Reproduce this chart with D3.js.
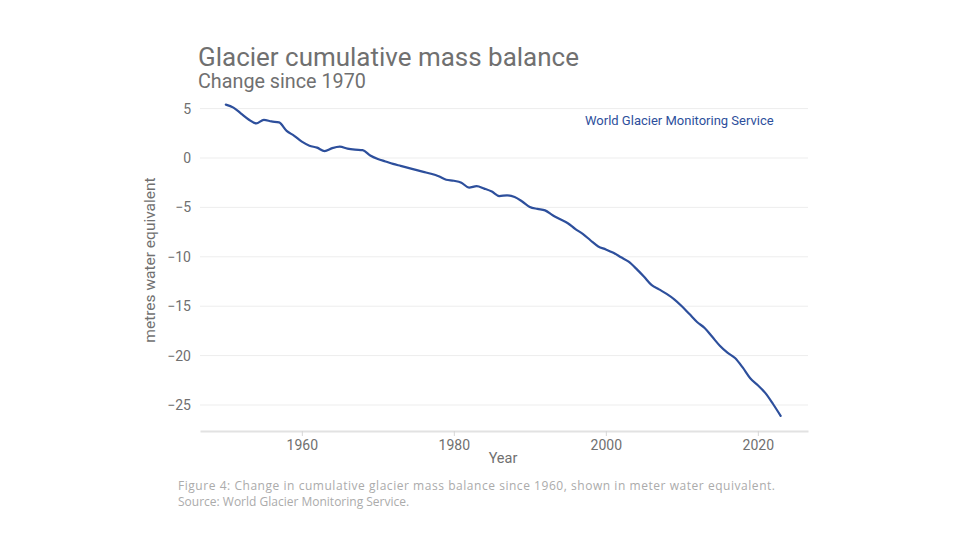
<!DOCTYPE html>
<html><head><meta charset="utf-8">
<script src="https://cdn.jsdelivr.net/npm/d3@7"></script>
<style>
html,body{margin:0;padding:0;background:#fff;}
svg{display:block;}
</style></head>
<body>
<svg id="chart" width="960" height="540"></svg>
<script>
const years = d3.range(1950, 2024);
const massBalance = [
 5.4, 5.1, 4.5, 3.9, 3.5, 3.85, 3.7, 3.6, 2.75, 2.25,
 1.65, 1.25, 1.05, 0.7, 1.0, 1.15, 0.95, 0.85, 0.8, 0.25,
 -0.1, -0.35, -0.6, -0.8, -1.0, -1.2, -1.4, -1.6, -1.85, -2.2,
 -2.3, -2.5, -3.0, -2.85, -3.1, -3.4, -3.85, -3.78, -3.95, -4.4,
 -4.95, -5.15, -5.3, -5.8, -6.2, -6.6, -7.2, -7.7, -8.35, -8.95,
 -9.25, -9.6, -10.05, -10.5, -11.2, -12.0, -12.85, -13.3, -13.75, -14.3,
 -15.0, -15.8, -16.6, -17.2, -18.1, -19.0, -19.7, -20.25, -21.2, -22.3,
 -23.0, -23.8, -24.9, -26.1
];
const xTicks = [1960, 1980, 2000, 2020];
const yTicks = [5, 0, -5, -10, -15, -20, -25];

const svg = d3.select("#chart");
const font = "Roboto, 'Liberation Sans', sans-serif";
const grey = "#707070";

const x = d3.scaleLinear().domain([1946.6, 2026.6]).range([200, 808]);
const y = d3.scaleLinear().domain([0, -25]).range([158, 405]);

// gridlines
svg.append("g").selectAll("line").data(yTicks).join("line")
  .attr("x1", 200).attr("x2", 808)
  .attr("y1", d => y(d)).attr("y2", d => y(d))
  .attr("stroke", "#ededed").attr("stroke-width", 1);

// y tick labels
svg.append("g").selectAll("text").data(yTicks).join("text")
  .attr("x", 191).attr("y", d => y(d)).attr("dy", "0.35em")
  .attr("text-anchor", "end")
  .attr("font-family", font).attr("font-size", 14).attr("fill", grey)
  .text(d => d < 0 ? "\u2212" + Math.abs(d) : d);

// x axis
const xAxis = d3.axisBottom(x).tickValues(xTicks).tickFormat(d3.format("d"))
  .tickSizeInner(5).tickSizeOuter(0).tickPadding(4);
const gx = svg.append("g").attr("transform", "translate(0,431)").call(xAxis);
gx.select(".domain").attr("stroke", "#e2e2e2").attr("stroke-width", 2);
gx.selectAll(".tick line").attr("stroke", "#d6d6d6");
gx.selectAll(".tick text").attr("font-family", font).attr("font-size", 14).attr("fill", grey);

// line
const line = d3.line().x((d, i) => x(years[i])).y(d => y(d)).curve(d3.curveMonotoneX);
svg.append("path").datum(massBalance)
  .attr("d", line).attr("fill", "none")
  .attr("stroke", "#2d4f9c").attr("stroke-width", 2.2)
  .attr("stroke-linejoin", "round").attr("stroke-linecap", "round");

// axis titles
svg.append("text").attr("x", 503).attr("y", 463).attr("text-anchor", "middle")
  .attr("font-family", font).attr("font-size", 14.5).attr("fill", grey).text("Year");
svg.append("text").attr("transform", "translate(155,260) rotate(-90)").attr("text-anchor", "middle")
  .attr("font-family", font).attr("font-size", 15.5).attr("fill", grey).text("metres water equivalent");

// annotation
svg.append("text").attr("x", 585).attr("y", 125)
  .attr("font-family", font).attr("font-size", 13).attr("fill", "#2d4f9c")
  .text("World Glacier Monitoring Service");

// title & subtitle
function fit(sel, target) {
  const w = sel.node().getComputedTextLength();
  const fs = parseFloat(sel.attr("font-size"));
  sel.attr("font-size", fs * target / w);
}
const title = svg.append("text").attr("x", 198).attr("y", 66)
  .attr("font-family", font).attr("font-size", 25).attr("fill", grey)
  .text("Glacier cumulative mass balance");
fit(title, 381);
const sub = svg.append("text").attr("x", 198).attr("y", 88)
  .attr("font-family", font).attr("font-size", 18).attr("fill", grey)
  .text("Change since 1970");
fit(sub, 168);

// caption
const capFont = "'Open Sans', Lato, sans-serif";
svg.append("text").attr("x", 178).attr("y", 490)
  .attr("font-family", capFont).attr("font-size", 12).attr("fill", "#ababab")
  .attr("textLength", 597).attr("lengthAdjust", "spacing")
  .text("Figure 4: Change in cumulative glacier mass balance since 1960, shown in meter water equivalent.");
svg.append("text").attr("x", 178).attr("y", 506)
  .attr("font-family", capFont).attr("font-size", 12).attr("fill", "#ababab")
  .text("Source: World Glacier Monitoring Service.");
</script>
</body></html>
